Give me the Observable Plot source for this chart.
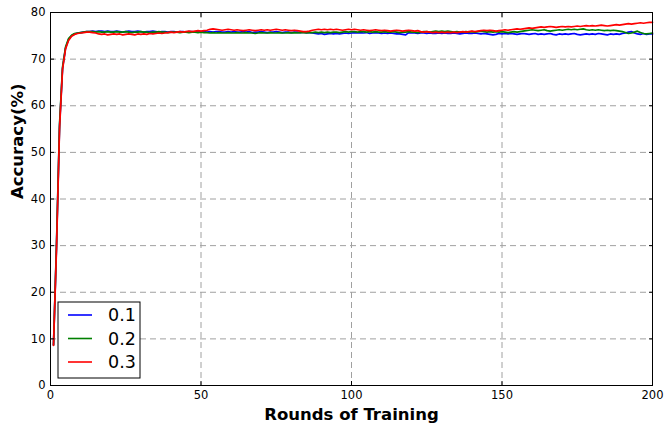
<!DOCTYPE html>
<html>
<head>
<meta charset="utf-8">
<script src="https://cdn.jsdelivr.net/npm/d3@7"></script>
<script src="https://cdn.jsdelivr.net/npm/@observablehq/plot@0.6"></script>
<style>
  html, body { margin: 0; padding: 0; background: #fff; }
</style>
</head>
<body>
<div id="chart"></div>
<script>
const seriesNames = ["0.1", "0.2", "0.3"];
const seriesColors = ["#0000ff", "#008000", "#ff0000"];
const xTicks = [0, 50, 100, 150, 200];
const yTicks = [0, 10, 20, 30, 40, 50, 60, 70, 80];
const xLabel = "Rounds of Training";
const yLabel = "Accuracy(%)";

const acc01 = [
  8.7, 30.0, 55.5, 68.0, 72.4, 74.2, 75.0, 75.4, 75.6, 75.7, 75.8, 75.9,
  75.9, 76.0, 75.9, 76.0, 76.0, 75.9, 76.0, 75.9,
  75.9, 76.0, 75.9, 75.8, 75.9, 76.0, 75.9, 75.9, 76.0, 75.9,
  75.8, 75.9, 75.9, 76.0, 75.9, 75.8, 75.9, 75.9, 75.8, 75.9,
  75.9, 75.8, 75.9, 75.9, 75.8, 75.9, 75.9, 75.8, 75.9, 75.9,
  75.9, 75.8, 75.9, 75.8, 75.9, 75.9, 75.8, 75.8, 75.9, 75.8,
  75.9, 75.8, 75.8, 75.9, 75.8, 75.9, 75.7, 75.8, 75.8, 75.9,
  75.8, 75.7, 75.8, 75.8, 75.9, 75.8, 75.7, 75.8, 75.8, 75.7,
  75.8, 75.8, 75.7, 75.8, 75.7, 75.7, 75.6, 75.5, 75.4, 75.5,
  75.3, 75.4, 75.5, 75.4, 75.5, 75.4, 75.5, 75.6, 75.5, 75.6,
  75.7, 75.6, 75.7, 75.6, 75.7, 75.5, 75.6, 75.7, 75.6, 75.5,
  75.6, 75.5, 75.6, 75.5, 75.4, 75.4, 75.3, 75.2, 75.7, 75.6,
  75.6, 75.5, 75.6, 75.6, 75.5, 75.6, 75.5, 75.5, 75.6, 75.5,
  75.6, 75.5, 75.5, 75.6, 75.5, 75.4, 75.5, 75.6, 75.5, 75.5,
  75.6, 75.5, 75.4, 75.5, 75.4, 75.3, 75.2, 75.3, 75.5, 75.4,
  75.5, 75.4, 75.5, 75.4, 75.3, 75.4, 75.5, 75.4, 75.3, 75.4,
  75.5, 75.3, 75.4, 75.3, 75.4, 75.5, 75.3, 75.2, 75.4, 75.3,
  75.4, 75.3, 75.4, 75.5, 75.3, 75.2, 75.3, 75.4, 75.3, 75.4,
  75.3, 75.5, 75.4, 75.3, 75.2, 75.4, 75.3, 75.4, 75.3, 75.5,
  75.6, 75.8, 75.9, 75.6, 75.4, 75.3, 75.5, 75.3, 75.4, 75.4
];
const acc02 = [
  8.7, 30.5, 56.0, 68.3, 72.6, 74.4, 75.1, 75.5, 75.6, 75.7, 75.8, 75.9,
  75.9, 75.9, 75.8, 75.9, 75.8, 75.8, 75.9, 75.8,
  75.8, 75.9, 75.8, 75.8, 75.9, 75.8, 75.7, 75.8, 75.8, 75.9,
  75.8, 75.8, 75.7, 75.8, 75.8, 75.9, 75.8, 75.8, 75.7, 75.8,
  75.8, 75.8, 75.7, 75.8, 75.8, 75.7, 75.8, 75.8, 75.7, 75.8,
  75.7, 75.7, 75.6, 75.7, 75.6, 75.7, 75.6, 75.6, 75.7, 75.6,
  75.6, 75.7, 75.6, 75.6, 75.7, 75.6, 75.6, 75.5, 75.6, 75.7,
  75.6, 75.6, 75.7, 75.6, 75.6, 75.7, 75.6, 75.6, 75.7, 75.6,
  75.7, 75.6, 75.7, 75.7, 75.6, 75.7, 75.7, 75.8, 75.7, 75.8,
  75.7, 75.8, 75.7, 75.8, 75.8, 75.7, 75.8, 75.9, 75.8, 75.9,
  75.9, 75.8, 75.9, 75.9, 75.8, 75.9, 75.8, 75.9, 75.8, 75.8,
  75.9, 75.8, 75.8, 75.9, 75.8, 75.7, 75.8, 75.8, 75.9, 75.8,
  75.8, 75.7, 75.8, 75.9, 75.9, 75.8, 75.9, 76.0, 75.9, 76.0,
  75.9, 76.0, 75.9, 75.8, 75.9, 75.8, 75.8, 75.9, 75.8, 75.9,
  75.8, 75.9, 76.0, 75.9, 75.8, 75.9, 75.8, 75.9, 75.8, 75.9,
  75.8, 75.7, 75.8, 75.9, 75.8, 75.9, 76.0, 76.1, 76.2, 76.3,
  76.2, 76.1, 76.2, 76.3, 76.1, 76.0, 76.1, 76.2, 76.3, 76.2,
  76.3, 76.4, 76.3, 76.4, 76.3, 76.4, 76.5, 76.3, 76.2, 76.3,
  76.2, 76.3, 76.2, 76.1, 76.2, 76.1, 76.2, 76.1, 76.0, 75.9,
  75.7, 75.5, 75.6, 75.8, 76.0, 75.7, 75.5, 75.4, 75.5, 75.6
];
const acc03 = [
  8.6, 29.5, 55.0, 67.8, 72.2, 74.0, 74.9, 75.3, 75.5, 75.6, 75.7, 75.8,
  75.8, 75.7, 75.6, 75.4, 75.3, 75.4, 75.2, 75.3,
  75.4, 75.3, 75.4, 75.2, 75.3, 75.4, 75.3, 75.2, 75.4, 75.3,
  75.4, 75.3, 75.5, 75.4, 75.5, 75.6, 75.5, 75.6, 75.7, 75.8,
  75.7, 75.8, 75.9, 75.8, 75.9, 76.0, 75.9, 76.0, 76.1, 76.0,
  76.1, 76.2, 76.4, 76.5, 76.4, 76.3, 76.2, 76.3, 76.4, 76.3,
  76.2, 76.3, 76.2, 76.1, 76.2, 76.3, 76.2, 76.1, 76.2, 76.3,
  76.2, 76.3, 76.2, 76.3, 76.4, 76.3, 76.2, 76.3, 76.2, 76.1,
  76.2, 76.1, 76.0, 75.9, 75.9, 76.0, 76.2, 76.3, 76.4, 76.3,
  76.4, 76.3, 76.4, 76.3, 76.4, 76.3, 76.2, 76.3, 76.4, 76.3,
  76.4, 76.3, 76.2, 76.3, 76.2, 76.1, 76.2, 76.3, 76.2, 76.1,
  76.2, 76.1, 76.0, 76.1, 76.2, 76.1, 76.0, 76.1, 76.2, 76.1,
  76.0, 76.1, 75.9, 75.8, 75.9, 75.8, 75.7, 75.8, 75.7, 75.8,
  75.7, 75.8, 75.7, 75.8, 75.7, 75.8, 75.9, 75.8, 75.9, 76.0,
  75.9, 76.0, 76.1, 76.2, 76.1, 76.2, 76.1, 76.0, 76.1, 76.2,
  76.3, 76.2, 76.3, 76.4, 76.5, 76.4, 76.5, 76.6, 76.7, 76.6,
  76.7, 76.8, 76.9, 76.8, 76.9, 77.0, 76.9, 76.8, 76.9, 77.0,
  76.9, 77.0, 76.9, 77.0, 77.1, 77.0, 77.1, 77.2, 77.1, 77.2,
  77.1, 77.2, 77.3, 77.2, 77.1, 77.2, 77.3, 77.4, 77.3, 77.4,
  77.5, 77.6, 77.5, 77.6, 77.7, 77.8, 77.7, 77.8, 77.9, 77.9
];

const allSeries = [acc01, acc02, acc03];
const rows = [];
allSeries.forEach((vals, s) => {
  vals.forEach((v, i) => rows.push({round: i + 1, acc: v, series: seriesNames[s]}));
});

const gridStyle = {stroke: "#a0a0a0", strokeOpacity: 1, strokeWidth: 1, strokeDasharray: "6,4"};

const chart = Plot.plot({
  width: 664,
  height: 426,
  marginLeft: 50,
  marginRight: 12,
  marginTop: 12,
  marginBottom: 41,
  style: {fontFamily: "'DejaVu Sans', sans-serif", fontSize: "11.5px", color: "#000", background: "#fff"},
  x: {domain: [0, 200]},
  y: {domain: [0, 80]},
  color: {domain: seriesNames, range: seriesColors},
  marks: [
    Plot.gridX(xTicks.slice(1, -1), gridStyle),
    Plot.gridY(yTicks.slice(1, -1), gridStyle),
    Plot.line(rows, {x: "round", y: "acc", z: "series", stroke: "series", strokeWidth: 1.7}),
    Plot.frame({stroke: "#000", strokeWidth: 1}),
    Plot.axisX(xTicks, {anchor: "bottom", tickSize: -4, tickPadding: 9, label: null, stroke: "#000"}),
    Plot.axisX(xTicks, {anchor: "top", tickSize: -4, tickFormat: () => "", label: null, stroke: "#000"}),
    Plot.axisY(yTicks, {anchor: "left", tickSize: -4, tickPadding: 9, label: null, stroke: "#000"}),
    Plot.axisY(yTicks, {anchor: "right", tickSize: -4, tickFormat: () => "", label: null, stroke: "#000"}),
    Plot.text([xLabel], {frameAnchor: "bottom", dy: 29, lineAnchor: "middle", fontWeight: "bold", fontSize: 16.5, fill: "#000"}),
    Plot.text([yLabel], {frameAnchor: "left", dx: -33, rotate: -90, lineAnchor: "middle", fontWeight: "bold", fontSize: 16.5, fill: "#000"})
  ]
});

document.getElementById("chart").appendChild(chart);

// Legend box (bottom-left, inside plot)
const svg = d3.select(chart);
const lg = svg.append("g").attr("font-family", "'DejaVu Sans', sans-serif").attr("text-anchor", "start");
lg.append("rect").attr("x", 58).attr("y", 302).attr("width", 82).attr("height", 76)
  .attr("fill", "#fff").attr("stroke", "#000").attr("stroke-width", 1);
seriesNames.forEach((name, i) => {
  const cy = 315 + i * 23.5;
  lg.append("line").attr("x1", 68).attr("x2", 92).attr("y1", cy).attr("y2", cy)
    .attr("stroke", seriesColors[i]).attr("stroke-width", 1.6);
  lg.append("text").attr("x", 108).attr("y", cy).attr("dy", "0.35em")
    .attr("font-size", 17.5).attr("fill", "#000").text(name);
});
</script>
</body>
</html>
